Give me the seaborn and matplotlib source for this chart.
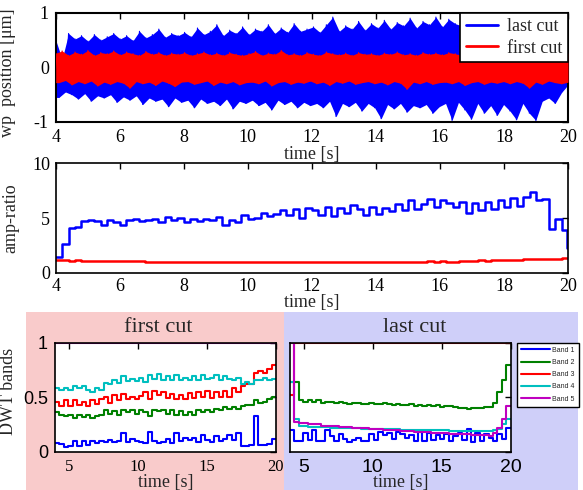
import numpy as np
import matplotlib
matplotlib.use("Agg")
import matplotlib.pyplot as plt
import seaborn as sns
from matplotlib.patches import Rectangle
from matplotlib.lines import Line2D

# ---------------- data ----------------
# top panel: noise envelopes (80 samples each, 4..20 s)
blue_upper = [0.50, 0.15, 0.62, 0.52, 0.58, 0.48, 0.60, 0.50, 0.56, 0.62,
              0.52, 0.58, 0.49, 0.66, 0.54, 0.60, 0.70, 0.55, 0.62, 0.58,
              0.64, 0.56, 0.72, 0.60, 0.66, 0.78, 0.58, 0.68, 0.62, 0.74,
              0.60, 0.70, 0.66, 0.78, 0.62, 0.72, 0.64, 0.80, 0.66, 0.70,
              0.74, 0.64, 0.78, 0.92, 0.66, 0.76, 0.70, 0.84, 0.68, 0.80,
              0.72, 0.86, 0.70, 0.82, 0.76, 0.90, 0.72, 0.84, 0.78, 0.92,
              0.74, 0.88, 0.80, 0.76, 0.90, 0.74, 0.86, 0.78, 0.92, 0.80,
              0.86, 0.76, 0.90, 0.78, 0.84, 0.70, 0.62, 0.55, 0.45, 0.30]
blue_lower = [-0.55, -0.45, -0.50, -0.58, -0.48, -0.62, -0.52, -0.56, -0.50, -0.64,
              -0.54, -0.60, -0.52, -0.68, -0.56, -0.62, -0.58, -0.72, -0.56, -0.64,
              -0.60, -0.74, -0.58, -0.66, -0.62, -0.70, -0.58, -0.76, -0.62, -0.66,
              -0.60, -0.70, -0.64, -0.78, -0.60, -0.68, -0.62, -0.74, -0.64, -0.70,
              -0.66, -0.74, -0.62, -0.90, -0.66, -0.72, -0.64, -0.80, -0.66, -0.74,
              -0.94, -0.68, -0.76, -0.66, -0.82, -0.70, -0.74, -0.68, -0.84, -0.72,
              -0.66, -0.97, -0.64, -0.78, -0.95, -0.66, -0.84, -0.70, -0.88, -0.68,
              -0.80, -0.96, -0.66, -0.84, -0.97, -0.62, -0.56, -0.66, -0.46, -0.32]
red_upper = [0.26, 0.30, 0.22, 0.28, 0.24, 0.31, 0.22, 0.27, 0.25, 0.30,
             0.23, 0.28, 0.25, 0.22, 0.29, 0.24, 0.27, 0.22, 0.26, 0.24,
             0.27, 0.22, 0.25, 0.28, 0.23, 0.26, 0.22, 0.27, 0.24, 0.22,
             0.25, 0.29, 0.22, 0.26, 0.24, 0.31, 0.23, 0.25, 0.22, 0.27,
             0.24, 0.22, 0.28, 0.25, 0.23, 0.26, 0.22, 0.27, 0.24, 0.25,
             0.22, 0.26, 0.24, 0.28, 0.23, 0.25, 0.22, 0.27, 0.24, 0.26,
             0.23, 0.27, 0.25, 0.22, 0.28, 0.24, 0.26, 0.23, 0.27, 0.25,
             0.24, 0.28, 0.26, 0.25, 0.29, 0.24, 0.27, 0.25, 0.28, 0.26]
red_lower = [-0.28, -0.24, -0.32, -0.26, -0.30, -0.25, -0.34, -0.27, -0.31, -0.26,
             -0.29, -0.38, -0.26, -0.30, -0.27, -0.33, -0.25, -0.29, -0.35, -0.27,
             -0.26, -0.31, -0.28, -0.25, -0.33, -0.27, -0.30, -0.26, -0.32, -0.28,
             -0.27, -0.30, -0.25, -0.34, -0.28, -0.26, -0.31, -0.27, -0.29, -0.25,
             -0.30, -0.27, -0.33, -0.26, -0.29, -0.25, -0.31, -0.28, -0.26, -0.30,
             -0.27, -0.32, -0.26, -0.29, -0.40, -0.27, -0.30, -0.26, -0.31, -0.28,
             -0.27, -0.30, -0.26, -0.33, -0.28, -0.26, -0.31, -0.27, -0.29, -0.26,
             -0.30, -0.26, -0.29, -0.38, -0.27, -0.31, -0.25, -0.28, -0.30, -0.27]

# middle panel: amp-ratio (0.2 s bins)
amp_last = [1.4, 2.6, 4.1, 4.2, 4.7, 4.8, 4.7, 4.4, 4.8, 4.6,
            4.4, 4.8, 4.9, 4.7, 4.8, 4.9, 4.6, 5.1, 4.8, 5.0,
            4.6, 4.9, 4.7, 4.9, 4.8, 5.1, 4.4, 4.8, 4.6, 5.3,
            4.9, 5.0, 5.5, 5.2, 5.4, 5.7, 5.3, 5.8, 5.0, 5.9,
            5.7, 5.3, 6.0, 5.2, 5.9, 5.5, 6.2, 5.8, 5.3, 6.0,
            5.4, 5.9, 5.6, 6.3, 5.7, 6.6, 5.8, 6.3, 6.7, 6.0,
            6.6, 6.4, 6.0, 6.5, 5.5, 6.4, 5.7, 6.5, 5.8, 6.6,
            6.0, 6.8, 6.1, 6.9, 7.4, 6.6, 6.7, 4.0, 4.9, 3.9]
amp_first = [1.15, 1.12, 1.10, 1.12, 1.08, 1.10, 1.07, 1.09, 1.06, 1.08,
             1.07, 1.10, 1.08, 1.05, 1.00, 0.97, 0.98, 0.96, 0.99, 0.97,
             0.98, 0.96, 1.00, 0.97, 0.95, 0.98, 0.96, 0.99, 0.97, 0.95,
             0.98, 0.96, 1.00, 0.97, 0.99, 1.01, 0.98, 1.00, 0.97, 1.02,
             0.99, 1.01, 0.98, 1.00, 0.97, 0.99, 0.96, 0.98, 1.00, 0.97,
             0.99, 0.96, 1.00, 0.98, 1.01, 0.99, 1.02, 1.00, 1.03, 1.01,
             1.04, 1.02, 0.96, 1.05, 1.10, 1.08, 1.12, 1.10, 1.15, 1.13,
             1.16, 1.18, 1.20, 1.22, 1.25, 1.24, 1.27, 1.25, 1.28, 1.32]

# bottom panels: DWT bands (0.32 s bins)
fc_band1 = [0.08, 0.07, 0.04, 0.05, 0.10, 0.05, 0.10, 0.06, 0.10, 0.08,
            0.10, 0.09, 0.11, 0.09, 0.10, 0.17, 0.09, 0.12, 0.10, 0.09,
            0.08, 0.18, 0.10, 0.08, 0.09, 0.12, 0.08, 0.17, 0.10, 0.13,
            0.11, 0.13, 0.09, 0.15, 0.11, 0.09, 0.14, 0.10, 0.12, 0.15,
            0.11, 0.17, 0.05, 0.05, 0.06, 0.33, 0.06, 0.06, 0.07, 0.12]
fc_band2 = [0.36, 0.34, 0.33, 0.34, 0.31, 0.34, 0.32, 0.34, 0.31, 0.33,
            0.34, 0.38, 0.35, 0.37, 0.34, 0.38, 0.36, 0.38, 0.35, 0.38,
            0.36, 0.33, 0.38, 0.37, 0.38, 0.35, 0.38, 0.34, 0.37, 0.34,
            0.36, 0.34, 0.38, 0.36, 0.38, 0.36, 0.39, 0.38, 0.41, 0.39,
            0.41, 0.39, 0.42, 0.43, 0.43, 0.47, 0.45, 0.46, 0.48, 0.50]
fc_band3 = [0.46, 0.42, 0.47, 0.42, 0.47, 0.43, 0.46, 0.42, 0.47, 0.44,
            0.48, 0.50, 0.45, 0.52, 0.47, 0.53, 0.48, 0.50, 0.48, 0.51,
            0.55, 0.48, 0.56, 0.52, 0.55, 0.49, 0.53, 0.48, 0.52, 0.48,
            0.54, 0.49, 0.55, 0.50, 0.56, 0.49, 0.55, 0.50, 0.56, 0.50,
            0.58, 0.55, 0.60, 0.62, 0.62, 0.72, 0.74, 0.72, 0.76, 0.80]
fc_band4 = [0.58, 0.57, 0.58, 0.57, 0.60, 0.58, 0.60, 0.57, 0.55, 0.58,
            0.57, 0.63, 0.62, 0.66, 0.63, 0.69, 0.65, 0.67, 0.65, 0.68,
            0.64, 0.70, 0.67, 0.71, 0.66, 0.69, 0.66, 0.70, 0.66, 0.68,
            0.66, 0.69, 0.66, 0.70, 0.67, 0.68, 0.70, 0.66, 0.69, 0.67,
            0.66, 0.68, 0.62, 0.64, 0.62, 0.66, 0.66, 0.68, 0.66, 0.67]
fc_band5 = [1.0] * 50

lc_band1 = [0.20, 0.10, 0.10, 0.17, 0.11, 0.20, 0.10, 0.10, 0.20, 0.14,
            0.10, 0.16, 0.12, 0.09, 0.11, 0.13, 0.10, 0.10, 0.16, 0.11,
            0.18, 0.15, 0.17, 0.12, 0.18, 0.16, 0.13, 0.15, 0.10, 0.18,
            0.10, 0.17, 0.11, 0.15, 0.12, 0.16, 0.10, 0.14, 0.17, 0.11,
            0.21, 0.09, 0.17, 0.10, 0.16, 0.13, 0.10, 0.16, 0.12, 0.22]
lc_band2 = [0.64, 0.64, 0.47, 0.46, 0.47, 0.46, 0.47, 0.45, 0.46, 0.46,
            0.45, 0.46, 0.45, 0.44, 0.45, 0.45, 0.44, 0.44, 0.45, 0.44,
            0.44, 0.45, 0.44, 0.43, 0.44, 0.43, 0.43, 0.44, 0.42, 0.43,
            0.42, 0.43, 0.42, 0.43, 0.41, 0.42, 0.42, 0.41, 0.40, 0.40,
            0.39, 0.40, 0.40, 0.40, 0.41, 0.41, 0.45, 0.55, 0.66, 0.80]
lc_band3 = [0.52] + [1.0] * 49
lc_band4 = [0.64, 0.30, 0.24, 0.24, 0.23, 0.23, 0.23, 0.23, 0.23, 0.22,
            0.22, 0.22, 0.22, 0.22, 0.22, 0.22, 0.21, 0.21, 0.21, 0.21,
            0.21, 0.21, 0.21, 0.21, 0.21, 0.20, 0.20, 0.20, 0.20, 0.20,
            0.20, 0.20, 0.20, 0.20, 0.20, 0.20, 0.19, 0.19, 0.19, 0.19,
            0.19, 0.19, 0.19, 0.19, 0.19, 0.19, 0.20, 0.21, 0.25, 0.30]
lc_band5 = [1.0, 0.27, 0.26, 0.26, 0.25, 0.25, 0.25, 0.24, 0.24, 0.24,
            0.24, 0.23, 0.23, 0.23, 0.22, 0.22, 0.22, 0.22, 0.21, 0.21,
            0.21, 0.20, 0.20, 0.20, 0.20, 0.19, 0.19, 0.19, 0.18, 0.18,
            0.18, 0.18, 0.17, 0.17, 0.17, 0.17, 0.16, 0.16, 0.16, 0.16,
            0.16, 0.15, 0.15, 0.15, 0.15, 0.14, 0.17, 0.22, 0.30, 0.42]

band_labels = ["Band 1", "Band 2", "Band 3", "Band 4", "Band 5"]
band_colors = ["#0000FF", "#008000", "#FF0000", "#00BFBF", "#BF00BF"]
T0, T1 = 4, 20

# ---------------- style ----------------
sns.set_style("white")
SERIF = ["Liberation Serif", "DejaVu Serif"]
SANS = ["Liberation Sans", "DejaVu Sans"]
plt.rcParams["font.family"] = SERIF
plt.rcParams["axes.unicode_minus"] = False
plt.rcParams["font.size"] = 13

W, H = 583, 490
fig = plt.figure(figsize=(W / 100, H / 100), dpi=100)
fig.patch.set_facecolor("white")


def px_axes(l, t, r, b):
    return fig.add_axes([l / W, 1 - b / H, (r - l) / W, (b - t) / H])


# coloured backgrounds of the bottom panels
fig.add_artist(Rectangle((26 / W, 0), (283.5 - 26) / W, (490 - 312) / H,
                         transform=fig.transFigure, facecolor="#F9CBCB",
                         edgecolor="none", zorder=0))
fig.add_artist(Rectangle((283.5 / W, 0), (578 - 283.5) / W, (490 - 312) / H,
                         transform=fig.transFigure, facecolor="#CFCFF9",
                         edgecolor="none", zorder=0))


def style_axes(ax, lw=1.2, labelsize=13, family=SERIF, pad=5):
    for s in ax.spines.values():
        s.set_linewidth(lw)
        s.set_color("black")
        s.set_visible(True)
    ax.tick_params(direction="in", top=True, right=True, length=4, width=1,
                   labelsize=labelsize, pad=pad, colors="black")
    for lab in ax.get_xticklabels() + ax.get_yticklabels():
        lab.set_family(family)
    ax.set_facecolor("white")


def place_xlabel(ax, text, y_px, ax_bottom_px, ax_h_px):
    ax.set_xlabel(text, fontsize=13)
    ax.xaxis.set_label_coords(0.5, -(y_px - ax_bottom_px) / ax_h_px)
    ax.xaxis.label.set_va("center")


# ---------------- top panel ----------------
ax1 = px_axes(55.7, 12.7, 568, 122)
n = len(blue_upper)
tz = np.linspace(T0, T1, 2 * n)
t_up, t_lo = tz[0::2], tz[1::2]
for k, (up, lo, col) in enumerate([(blue_upper, blue_lower, "#0000FF"),
                                   (red_upper, red_lower, "#FF0000")]):
    upf = np.interp(tz, t_up, up)
    lof = np.interp(tz, t_lo, lo)
    ax1.fill_between(tz, lof, upf, color=col, lw=0, zorder=1 + 2 * k)
    zig = np.empty(2 * n)
    zig[0::2] = up
    zig[1::2] = lo
    sns.lineplot(x=tz, y=zig, ax=ax1, color=col, lw=0.8, sort=False,
                 estimator=None, zorder=1.5 + 2 * k)
ax1.set_xlim(T0, T1)
ax1.set_ylim(-1, 1)
ax1.set_xticks(np.arange(4, 21, 2))
ax1.set_yticks([-1, 0, 1])
ax1.set_yticklabels(["-1", "0", "1"])
place_xlabel(ax1, "time [s]", 154.5, 122, 109.3)
ax1.set_ylabel("wp  position [\u03bcm]", fontsize=13)
ax1.yaxis.set_label_coords(-0.078, 0.45)
style_axes(ax1, lw=1.5)
leg1 = ax1.legend(handles=[Line2D([], [], color="#0000FF", lw=2),
                           Line2D([], [], color="#FF0000", lw=2)],
                  labels=["last cut", "first cut"], loc="upper right",
                  borderaxespad=0, fancybox=False, framealpha=1,
                  edgecolor="black", handlelength=1.8,
                  handletextpad=0.5, borderpad=0.3, labelspacing=0.25,
                  prop={"family": SERIF, "size": 13})
leg1.get_frame().set_linewidth(1.2)
leg1.set_zorder(10)

# ---------------- middle panel ----------------
ax2 = px_axes(55.7, 163.3, 568, 272.7)
edges_amp = np.linspace(T0, T1, len(amp_last) + 1)
sns.lineplot(x=edges_amp, y=amp_first + [amp_first[-1]], ax=ax2,
             color="#FF0000", lw=1.8, drawstyle="steps-post", estimator=None)
sns.lineplot(x=np.append(edges_amp[:-1], [19.96, 20.0]),
             y=amp_last + [2.3, 2.3], ax=ax2, color="#0000FF", lw=1.8,
             drawstyle="steps-post", estimator=None)
ax2.set_xlim(T0, T1)
ax2.set_ylim(0, 10)
ax2.set_xticks(np.arange(4, 21, 2))
ax2.set_yticks([0, 5, 10])
place_xlabel(ax2, "time [s]", 302.5, 272.7, 109.4)
ax2.set_ylabel("amp-ratio", fontsize=13)
ax2.yaxis.set_label_coords(-0.07, 0.5)
style_axes(ax2, lw=1.2, pad=4)

# ---------------- bottom panels ----------------
fc_bands = [fc_band1, fc_band2, fc_band3, fc_band4, fc_band5]
lc_bands = [lc_band1, lc_band2, lc_band3, lc_band4, lc_band5]

ax3 = px_axes(55, 342.7, 276, 451.7)
ax4 = px_axes(290, 342.7, 510.7, 451.7)
for ax, bands in [(ax3, fc_bands), (ax4, lc_bands)]:
    edges = np.linspace(T0, T1, len(bands[0]) + 1)
    for vals, col, lab in zip(bands, band_colors, band_labels):
        sns.lineplot(x=edges, y=list(vals) + [vals[-1]], ax=ax, color=col,
                     lw=1.5, drawstyle="steps-post", estimator=None,
                     label=lab, legend=False)
    ax.set_xlim(T0, T1)
    ax.set_ylim(0, 1)
    ax.set_xticks([5, 10, 15, 20])
    ax.set_yticks([0, 0.5, 1])

ax3.set_yticklabels(["0", "0.5", "1"])
style_axes(ax3, lw=1.2, labelsize=12, family=SERIF, pad=5)
for lab in ax3.get_yticklabels():
    lab.set_family(SANS)
    lab.set_fontsize(13)
place_xlabel(ax3, "time [s]", 482, 451.7, 109)
ax3.set_ylabel("DWT bands", fontsize=13)
ax3.yaxis.set_label_coords(-0.172, 0.55)

style_axes(ax4, lw=1.2, labelsize=14, family=SANS, pad=5)
ax4.set_yticklabels([])
place_xlabel(ax4, "time [s]", 482, 451.7, 109)

fig.text(158 / W, 1 - 327.7 / H, "first cut", ha="center", va="center",
         fontsize=16, family=SERIF)
fig.text(414.6 / W, 1 - 327.7 / H, "last cut", ha="center", va="center",
         fontsize=16, family=SERIF)

handles = [Line2D([], [], color=c, lw=1.5) for c in band_colors]
leg2 = ax4.legend(handles=handles, labels=band_labels, loc="upper left",
                  bbox_to_anchor=(1.027, 1.0), borderaxespad=0,
                  fancybox=False, framealpha=1, edgecolor="black",
                  handlelength=4.2, handletextpad=0.3, borderpad=0.6,
                  labelspacing=0.75, prop={"family": SANS, "size": 5})
leg2.get_frame().set_linewidth(1.0)

fig.savefig("out.png", dpi=100, facecolor="white")
